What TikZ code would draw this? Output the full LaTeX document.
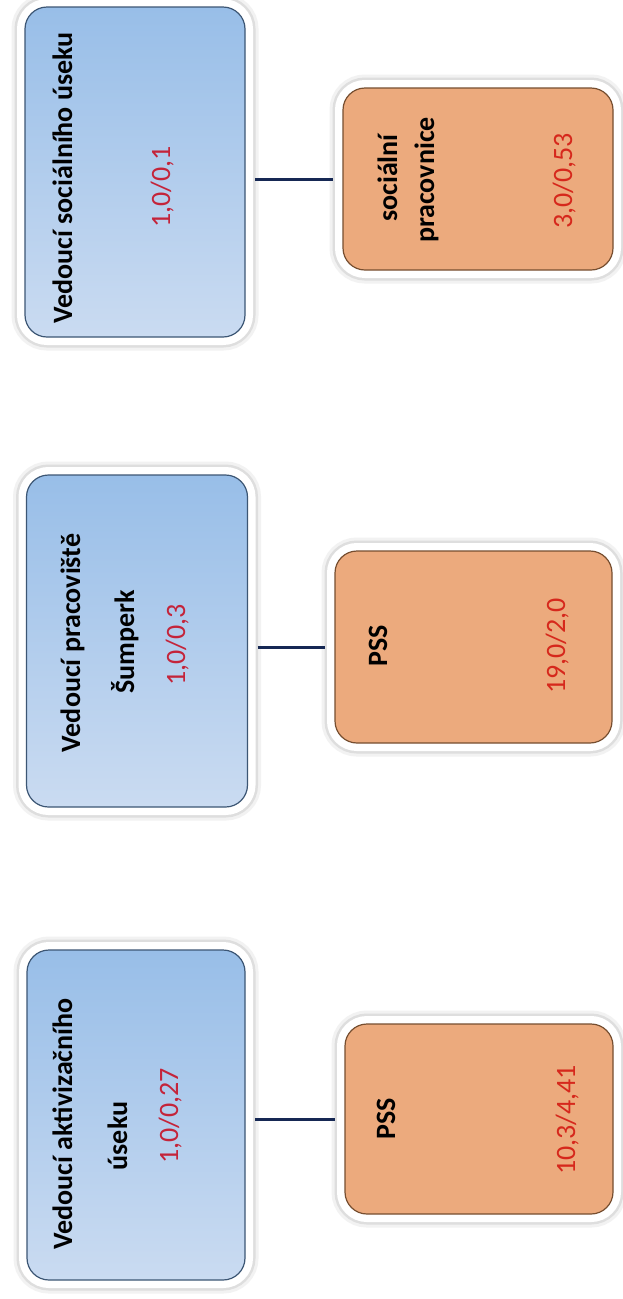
\documentclass[tikz,border=0pt]{standalone}
\usepackage{fontspec}
\setmainfont{Carlito}
\definecolor{blueTop}{RGB}{152,190,232}
\definecolor{blueBot}{RGB}{202,219,241}
\definecolor{blueEdge}{RGB}{60,86,116}
\definecolor{orFill}{RGB}{236,170,125}
\definecolor{orEdge}{RGB}{118,78,48}
\definecolor{numRedA}{RGB}{196,36,58}
\definecolor{numRedB}{RGB}{214,40,28}
\definecolor{connCol}{RGB}{22,40,84}
\begin{document}
\begin{tikzpicture}[x=1pt,y=-1pt,
  box/.style={rectangle, rounded corners=22pt, inner sep=0pt, outer sep=0pt, line width=1.2pt,
    preaction={draw=black!5, line width=27pt},
    preaction={draw=black!13, line width=21pt},
    preaction={draw=white, line width=16pt}},
  bluebox/.style={box, draw=blueEdge, top color=blueTop, bottom color=blueBot},
  orbox/.style={box, draw=orEdge, fill=orFill},
  ttl/.style={rotate=90, anchor=base, inner sep=0pt, font=\fontsize{28}{34}\selectfont\bfseries},
  numA/.style={rotate=90, anchor=base, inner sep=0pt, font=\fontsize{28}{34}\selectfont, text=numRedA},
  numB/.style={rotate=90, anchor=base, inner sep=0pt, font=\fontsize{28}{34}\selectfont, text=numRedB},
  conn/.style={draw=connCol, line width=3pt, shorten <=10pt, shorten >=10pt}
]
\useasboundingbox (0,0) rectangle (622,1299);
\fill[white] (0,0) rectangle (622,1299);

% blue boxes
\node[bluebox, minimum width=220pt, minimum height=330pt] (b1) at (135,172) {};
\node[bluebox, minimum width=221pt, minimum height=332pt] (b2) at (137,641) {};
\node[bluebox, minimum width=218pt, minimum height=330pt] (b3) at (136,1115) {};

% orange boxes
\node[orbox, minimum width=270pt, minimum height=182pt] (o1) at (478,179) {};
\node[orbox, minimum width=277pt, minimum height=192pt] (o2) at (473.5,647) {};
\node[orbox, minimum width=268pt, minimum height=190pt] (o3) at (479,1119) {};

% connectors
\draw[conn] (b1.east |- o1.west) -- (o1.west);
\draw[conn] (b2.east |- o2.west) -- (o2.west);
\draw[conn] (b3.east |- o3.west) -- (o3.west);

% texts blue 1
\node[ttl] (t1a) at (72,178) {Vedoucí sociálního úseku};
\node[numA] (t1b) at (170,187) {1,0/0,1};
% texts blue 2
\node[ttl] (t2a) at (80,643) {Vedoucí pracoviště};
\node[ttl] (t2b) at (134,642) {Šumperk};
\node[numA] (t2c) at (185,645) {1,0/0,3};
% texts blue 3
\node[ttl] (t3a) at (72,1124) {Vedoucí aktivizačního};
\node[ttl] (t3b) at (127,1136) {úseku};
\node[numA] (t3c) at (178,1116) {1,0/0,27};

% texts orange 1
\node[ttl] (u1a) at (397,178) {sociální};
\node[ttl] (u1b) at (434,180) {pracovnice};
\node[numB] (u1c) at (572,181) {3,0/0,53};
% texts orange 2
\node[ttl] (u2a) at (387,646) {PSS};
\node[numB] (u2b) at (565,646) {19,0/2,0};
% texts orange 3
\node[ttl] (u3a) at (395,1119) {PSS};
\node[numB] (u3b) at (575,1120) {10,3/4,41};
\end{tikzpicture}
\end{document}
